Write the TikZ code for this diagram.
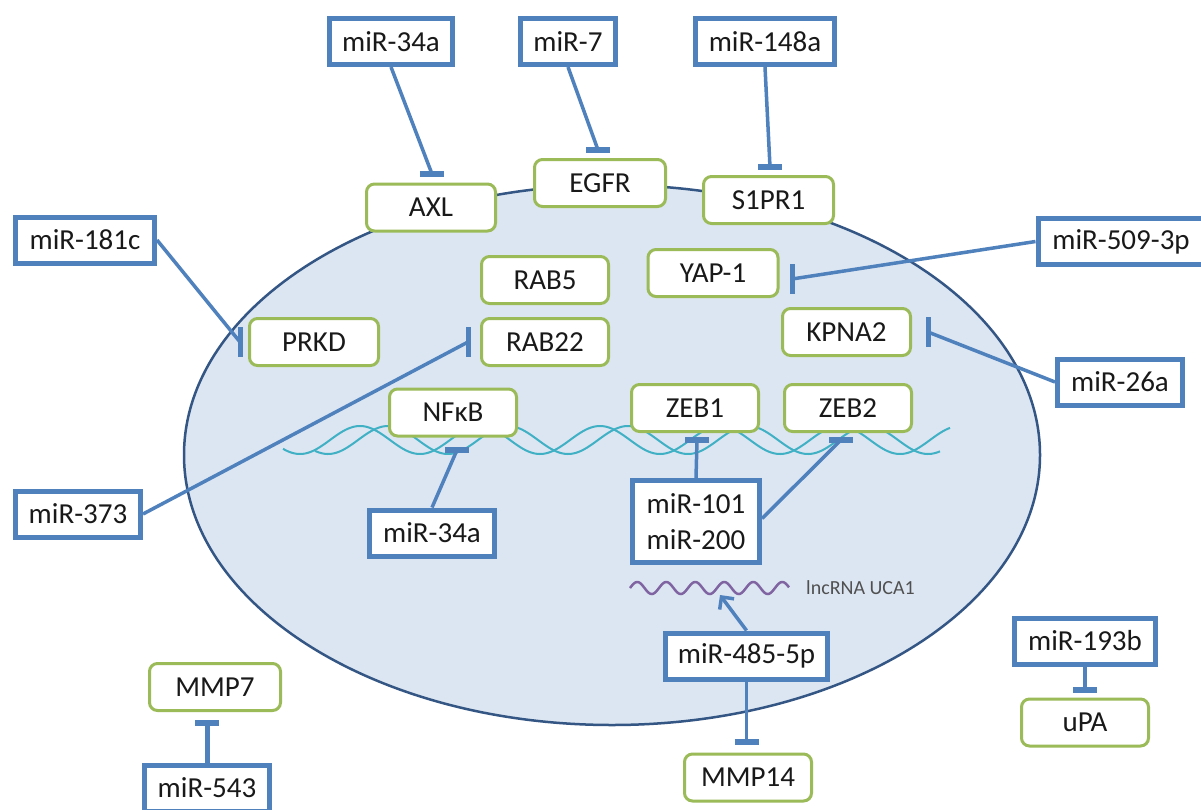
\documentclass[tikz,border=0pt]{standalone}
\usepackage{fontspec}
\setmainfont{Carlito}
\usetikzlibrary{arrows.meta,calc}
\definecolor{mblue}{RGB}{79,129,189}
\definecolor{mgreen}{RGB}{155,187,89}
\definecolor{cellfill}{RGB}{220,230,242}
\definecolor{celledge}{RGB}{52,86,132}
\definecolor{dna}{RGB}{64,176,196}
\definecolor{rna}{RGB}{128,100,162}
\definecolor{txt}{RGB}{25,25,25}
\definecolor{lbl}{RGB}{80,80,80}
\begin{document}
\begin{tikzpicture}[x=1pt,y=-1pt,
  mir/.style={draw=mblue, line width=5pt, fill=white, inner sep=0pt, minimum height=46pt,
    font=\fontsize{29}{36}\selectfont, text=txt, align=center},
  gene/.style={draw=mgreen, line width=3pt, fill=white, rounded corners=8pt, inner sep=0pt,
    minimum height=47pt, font=\fontsize{29}{36}\selectfont, text=txt},
  inh/.style={draw=mblue, line width=3.5pt},
  barst/.style={draw=mblue, line width=6pt},
  cell/.style={draw=celledge, fill=cellfill, line width=2.5pt},
  strand/.style={draw=dna, line width=2pt},
  lnc/.style={draw=rna, line width=2.5pt},
  act/.style={draw=mblue, line width=3.5pt, -{Straight Barb[length=9pt,width=18pt]}}
]
\useasboundingbox (0,0) rectangle (1201,809);
\fill[white] (0,0) rectangle (1201,809);

% cell
\draw[cell] (612,455) ellipse [x radius=428pt, y radius=270pt];

% DNA strands
\draw[strand] plot[domain=283:950, samples=300, smooth] (\x, {440+14*cos(3*(\x-540))});
\draw[strand] plot[domain=315:940, samples=300, smooth] (\x, {440+14*cos(3*(\x-568))});

% lncRNA
\draw[lnc] plot[domain=630:789, samples=160, smooth] (\x, {588-6*sin(12.4138*(\x-630))});
\node[anchor=west, font=\fontsize{20}{24}\selectfont, text=lbl, inner sep=0pt] (lncl) at (806,588) {lncRNA UCA1};

% miRNA boxes
\node[mir, minimum width=123pt] (m34t) at (391,41.5) {miR-34a};
\node[mir, minimum width=95pt] (m7) at (568,41.5) {miR-7};
\node[mir, minimum width=139pt] (m148) at (765,41.5) {miR-148a};
\node[mir, minimum width=139pt] (m181) at (85,240) {miR-181c};
\node[mir, minimum width=166pt] (m509) at (1121,241.5) {miR-509-3p};
\node[mir, minimum width=125pt] (m26) at (1120,382) {miR-26a};
\node[mir, minimum width=125pt] (m373) at (78,514) {miR-373};
\node[mir, minimum width=125pt] (m34b) at (432,533) {miR-34a};
\node[mir, minimum width=127pt, minimum height=82pt] (m101) at (696,521.5) {miR-101\\miR-200};
\node[mir, minimum width=162pt] (m485) at (746.5,656) {miR-485-5p};
\node[mir, minimum width=141pt] (m193) at (1085,641) {miR-193b};
\node[mir, minimum width=125pt] (m543) at (207,788) {miR-543};

% gene boxes
\node[gene, minimum width=129pt] (axl) at (431,207.5) {AXL};
\node[gene, minimum width=131pt] (egfr) at (600,183) {EGFR};
\node[gene, minimum width=130pt] (s1pr1) at (768.5,200) {S1PR1};
\node[gene, minimum width=127pt] (rab5) at (545,280) {RAB5};
\node[gene, minimum width=127pt] (rab22) at (545,342) {RAB22};
\node[gene, minimum width=129pt] (prkd) at (314,342) {PRKD};
\node[gene, minimum width=130pt] (yap) at (713,273) {YAP-1};
\node[gene, minimum width=128pt] (kpna) at (846.5,332) {KPNA2};
\node[gene, minimum width=127pt] (nfkb) at (453,412.5) {NFκB};
\node[gene, minimum width=127pt] (zeb1) at (695,408) {ZEB1};
\node[gene, minimum width=127pt] (zeb2) at (848,408) {ZEB2};
\node[gene, minimum width=131pt] (mmp7) at (215,687) {MMP7};
\node[gene, minimum width=127pt] (mmp14) at (748,777.5) {MMP14};
\node[gene, minimum width=127pt] (upa) at (1085,722.5) {uPA};

% bar coordinates
\coordinate (bAXL) at (432,174);
\coordinate (bEGFR) at (598,150);
\coordinate (bS1P) at (770,167);
\coordinate (bPRKD) at (240,342);
\coordinate (bRAB) at (468,342);
\coordinate (bYAP) at (792,279);
\coordinate (bKPNA) at (928,332);
\coordinate (bNFKB) at (457,450);
\coordinate (bZEB1) at (697,440);
\coordinate (bZEB2) at (841,440);
\coordinate (bMMP7) at (207,723);
\coordinate (bMMP14) at (746.5,742);
\coordinate (buPA) at (1085,690);
\coordinate (tipL) at (720,595);

% inhibition connectors (horizontal bars)
\foreach \src/\b in {m34t.south/bAXL, m7.south/bEGFR, m148.south/bS1P, m34b.north/bNFKB,
  m101.north/bZEB1, m485.south/bMMP14, m193.south/buPA}{
  \draw[inh] (\src) -- (\b);
  \draw[barst] ($(\b)+(-12,0)$) -- ($(\b)+(12,0)$);
}
\draw[inh] ($(m101.east)+(0,-3)$) -- (bZEB2);
\draw[barst] ($(bZEB2)+(-12,0)$) -- ($(bZEB2)+(12,0)$);
\draw[inh, line width=5pt] (m543.north) -- (bMMP7);
\draw[barst] ($(bMMP7)+(-12,0)$) -- ($(bMMP7)+(12,0)$);

% inhibition connectors (vertical bars)
\foreach \src/\b in {m181.east/bPRKD, m373.east/bRAB, m509.west/bYAP, m26.west/bKPNA}{
  \draw[inh] (\src) -- (\b);
  \draw[barst, line width=5pt] ($(\b)+(0,-15)$) -- ($(\b)+(0,15)$);
}

% activation arrow
\draw[act] (m485.north) -- (tipL);
\end{tikzpicture}
\end{document}
